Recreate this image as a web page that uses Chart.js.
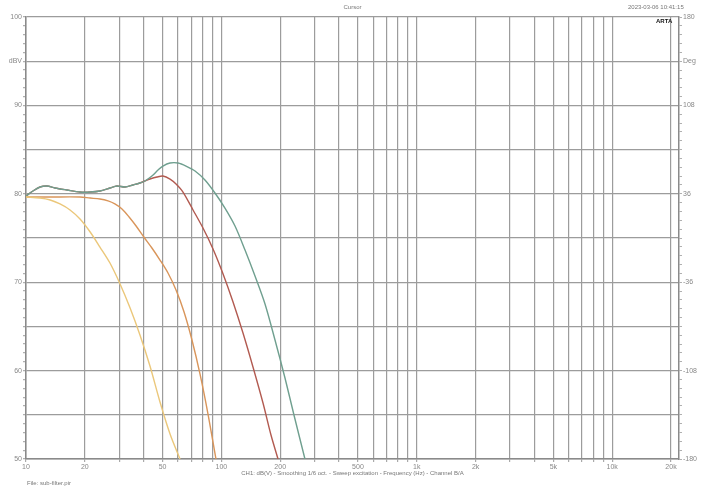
<!DOCTYPE html>
<html>
<head>
<meta charset="utf-8">
<script src="https://cdn.jsdelivr.net/npm/chart.js@4.4.0/dist/chart.umd.min.js"></script>
<style>
body { margin: 0; background: #fff; }
#wrap { position: relative; width: 705px; height: 494px; }
.t { position: absolute; font-family: "Liberation Sans", Arial, sans-serif; font-size: 6px; color: #777; white-space: nowrap; }
</style>
</head>
<body>
<div id="wrap">
<canvas id="fr" width="705" height="494"></canvas>
<div class="t" style="left:0;width:705px;text-align:center;top:4px;">Cursor</div>
<div class="t" style="left:628px;top:4px;">2023-03-06 10:41:15</div>
<div class="t" style="left:656px;top:18px;color:#111;font-weight:bold;">ARTA</div>
<div class="t" style="left:0;width:705px;text-align:center;top:470px;">CH1: dB(V) - Smoothing 1/6 oct. - Sweep excitation - Frequency (Hz) - Channel B/A</div>
<div class="t" style="left:27px;top:480px;">File: sub-filter.pir</div>
</div>
<script>
// level axis (dB) and phase axis labels
const leftLabels = { 100: '100', 95: 'dBV', 90: '90', 80: '80', 70: '70', 60: '60', 50: '50' };
const rightLabels = { 50: '180', 45: 'Deg', 40: '108', 30: '36', 20: '-36', 10: '-108', 0: '-180' };
const xLabelVals = [10, 20, 50, 100, 200, 500, 1000, 2000, 5000, 10000, 20000];
const xLabelText = ['10', '20', '50', '100', '200', '500', '1k', '2k', '5k', '10k', '20k'];

// lowest filter
const yellowF  = [10, 11.8, 13.3, 14.93, 16.8, 18.9, 21.3, 23.9, 26.9, 30.3, 34.1, 38.3, 43.1, 48.5, 54.6, 61.4];
const yellowDb = [79.64, 79.52, 79.30, 78.85, 78.17, 77.15, 75.68, 73.98, 72.17, 69.80, 67.08, 64.03, 60.52, 56.45, 52.83, 50.0];

const orangeF  = [10, 13.3, 18.9, 21.3, 23.9, 26.3, 28.5, 31.0, 33.7, 36.6, 40.1, 44.1, 48.5, 53.3, 58.6, 64.4, 70.7, 77.7, 85.4, 93.8];
const orangeDb = [79.64, 79.64, 79.64, 79.52, 79.41, 79.19, 78.85, 78.28, 77.38, 76.36, 75.11, 73.87, 72.51, 71.04, 69.12, 66.63, 63.46, 59.62, 55.09, 50.0];

// shared low part of the two upper curves
const commonF  = [10, 10.86, 11.8, 12.8, 14.07, 16.2, 18.9, 21.3, 23.9, 26.9, 29.2, 32.1, 35.3, 38.3, 40.6];
const commonDb = [79.75, 80.32, 80.77, 80.88, 80.66, 80.43, 80.2, 80.2, 80.32, 80.66, 80.88, 80.77, 81.0, 81.22, 81.45];

const redF  = [43.1, 46.8, 50.2, 54.6, 58.6, 63.6, 71.6, 80.5, 90.6, 102.0, 114.7, 129.0, 145.1, 163.3, 179.4, 194.9];
const redDb = [81.67, 81.9, 82.01, 81.67, 81.11, 80.2, 78.17, 76.13, 73.76, 70.93, 67.76, 64.25, 60.41, 56.33, 52.71, 50.0];

const greenF  = [44.1, 47.4, 50.2, 54.6, 60.0, 65.9, 73.3, 82.4, 92.7, 104.3, 117.4, 132.1, 148.6, 167.2, 188.1, 211.6, 235.2, 267.7];
const greenDb = [82.01, 82.69, 83.14, 83.48, 83.48, 83.14, 82.58, 81.56, 80.09, 78.39, 76.36, 73.64, 70.70, 67.53, 63.46, 59.16, 54.98, 50.0];

function pts(f, db) { return f.map((v, i) => ({ x: v, y: db[i] })); }

const gridColor = '#9c9c9c';
const tickFont = { family: 'Liberation Sans', size: 7 };

const xGrid = [];
for (let e = 1; e <= 3; e++) {
    for (let m = 1; m <= 9; m++) xGrid.push(m * Math.pow(10, e));
}
xGrid.push(10000, 20000);

function line(data, color) {
    return {
        data: data,
        borderColor: color,
        borderWidth: 1.4,
        pointRadius: 0,
        fill: false,
        tension: 0.3,
        yAxisID: 'y'
    };
}

new Chart(document.getElementById('fr'), {
    type: 'line',
    data: {
        datasets: [
            line(pts(yellowF, yellowDb), '#ebc77a'),
            line(pts(orangeF, orangeDb), '#d9955a'),
            line(pts(commonF.concat(greenF), commonDb.concat(greenDb)), '#6f9f8f'),
            line(pts(commonF.concat(redF), commonDb.concat(redDb)), '#b25a50')
        ]
    },
    options: {
        responsive: false,
        animation: false,
        layout: { padding: { top: 17, left: 0, right: 0, bottom: 0 } },
        plugins: {
            legend: { display: false },
            tooltip: { enabled: false }
        },
        scales: {
            x: {
                type: 'logarithmic',
                min: 10,
                max: 21980,
                afterBuildTicks: s => { s.ticks = xGrid.map(v => ({ value: v })); },
                afterFit: s => { s.height = 35; },
                ticks: {
                    autoSkip: false,
                    maxRotation: 0,
                    padding: 1,
                    color: '#888',
                    font: tickFont,
                    callback: v => {
                        const i = xLabelVals.indexOf(v);
                        return i >= 0 ? xLabelText[i] : '';
                    }
                },
                grid: { color: gridColor, lineWidth: 1.2, tickLength: 3, tickColor: '#aaa' },
                border: { color: '#8a8a8a', width: 1.5 }
            },
            y: {
                position: 'left',
                min: 50,
                max: 100,
                afterFit: s => { s.width = 26; },
                ticks: {
                    stepSize: 1,
                    autoSkip: false,
                    padding: 1,
                    color: '#888',
                    font: tickFont,
                    callback: v => leftLabels[v] !== undefined ? leftLabels[v] : ''
                },
                grid: {
                    color: c => (c.tick && c.tick.value % 5 === 0) ? gridColor : 'rgba(0,0,0,0)',
                    lineWidth: 1.2,
                    tickLength: 3,
                    tickColor: '#b0b0b0'
                },
                border: { color: '#8a8a8a', width: 1.5 }
            },
            phase: {
                position: 'right',
                min: -180,
                max: 180,
                afterBuildTicks: s => {
                    s.ticks = Array.from({ length: 51 }, (_, i) => ({ value: -180 + i * 7.2 }));
                },
                afterFit: s => { s.width = 26; },
                ticks: {
                    autoSkip: false,
                    padding: 1,
                    color: '#888',
                    font: tickFont,
                    callback: (v, i) => rightLabels[i] !== undefined ? rightLabels[i] : ''
                },
                grid: { drawOnChartArea: false, tickLength: 3, tickColor: '#b0b0b0' },
                border: { color: '#8a8a8a', width: 1.5 }
            }
        }
    }
});
</script>
</body>
</html>
